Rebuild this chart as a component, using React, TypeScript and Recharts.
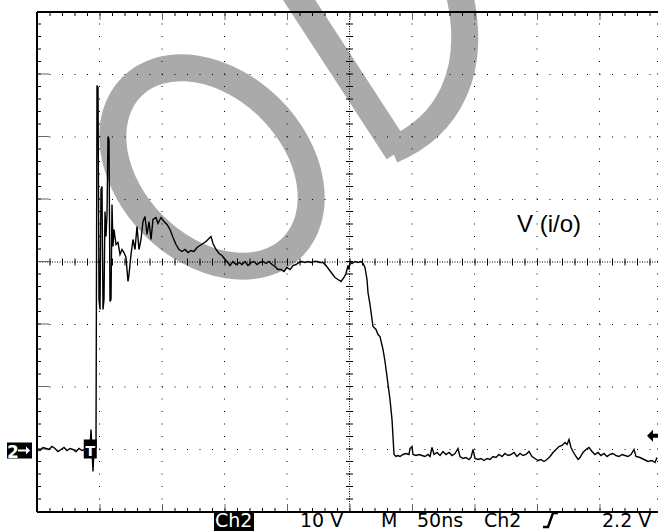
import React from 'react';
import { LineChart, Line, XAxis, YAxis, ReferenceLine, ReferenceDot, Customized } from 'recharts';

// time (ns) of each sample, 50 ns / div, 10 div
const T_NS = [
  0, 2.4, 4.8, 7.2, 9.6, 12, 14.4, 16.8, 19.2, 21.6, 24, 26.4, 28.8, 31.2, 33.6, 36, 38.4, 40.8, 42.4, 43.2,
  44, 44.8, 45.6, 47.2, 48, 48.8, 49.6, 50.4, 51.2, 52, 52.8, 53.6, 54.4, 55.2, 56, 56.8, 57.6, 58.4, 59.2, 60,
  60.8, 61.6, 63.2, 64.8, 66.4, 68, 69.6, 71.2, 72.8, 73.6, 75.2, 76.8, 78.4, 80, 81.6, 83.2, 84.8, 86.4, 88, 89.6,
  91.2, 92.8, 95.2, 96.8, 99.2, 101.6, 104, 106.4, 108.8, 111.2, 113.6, 116, 118.4, 120.8, 123.2, 125.6, 128, 130.4, 132.8, 135.2,
  136.8, 139.2, 140.8, 143.2, 145.6, 148, 150.4, 152, 154.4, 156.8, 159.2, 161.6, 164, 166.4, 168.8, 171.2, 173.6, 176, 178.4, 180.8,
  183.2, 185.6, 188, 190.4, 192.8, 195.2, 197.6, 200, 202.4, 204.8, 207.2, 209.6, 212, 214.4, 216.8, 219.2, 221.6, 224, 226.4, 228.8,
  231.2, 233.6, 236, 238.4, 240.8, 243.2, 245.6, 247.2, 248.8, 249.6, 250.4, 252, 254.4, 256.8, 259.2, 260.8, 262.4, 264, 264.8, 266.4,
  268.8, 271.2, 272.8, 274.4, 276.8, 278.4, 280, 282.4, 284, 284.8, 285.6, 287.2, 288.8, 290.4, 292.8, 295.2, 297.6, 298.4, 300, 300.8,
  303.2, 305.6, 308, 310.4, 312.8, 314.4, 316, 317.6, 320, 322.4, 324.8, 327.2, 329.6, 332, 334.4, 336.8, 338.4, 340.8, 343.2, 345.6,
  347.2, 348.8, 350.4, 352.8, 355.2, 357.6, 360, 362.4, 364.8, 367.2, 369.6, 372, 374.4, 376.8, 379.2, 381.6, 384, 386.4, 388.8, 391.2,
  393.6, 396, 398.4, 400.8, 403.2, 405.6, 408, 410.4, 412.8, 415.2, 417.6, 420, 422.4, 424, 425.6, 427.2, 428.8, 431.2, 432.8, 434.4,
  436.8, 439.2, 441.6, 444, 446.4, 448.8, 451.2, 453.6, 456, 458.4, 460.8, 463.2, 465.6, 468, 470.4, 472.8, 475.2, 477.6, 479.2, 482.4,
  485.6, 488.8, 492, 494.4, 496,
];

// Ch2 voltage (V), 10 V / div
const V_CH2 = [
  0, -0.16, 0.32, 0.16, 0, 0.48, 0.16, -0.32, 0, 0.32, -0.16, 0.16, 0, -0.32, 0.16, -0.16, 0, 0.32, 0, 3.2,
  0, -3.52, 0, 0.32, 58.24, 57.92, 24, 22.4, 41.6, 42.08, 22.4, 24, 38.08, 34.08, 37.6, 50.08, 49.6, 23.68, 24, 39.2,
  32.48, 35.2, 32.8, 33.12, 31.2, 32, 31.52, 30.72, 26.88, 28, 31.2, 33.6, 32, 35.68, 32, 33.6, 36.48, 37.28, 34.4, 36.48,
  33.6, 36.8, 37.12, 36.16, 37.12, 36.48, 36, 35.2, 33.92, 32.8, 32, 31.68, 32, 31.52, 31.84, 31.68, 32.32, 32.64, 32.96, 33.28,
  33.6, 34.08, 32.96, 32, 31.36, 31.04, 30.4, 30.08, 29.44, 30.08, 29.6, 29.92, 29.6, 30.08, 29.44, 29.92, 30.08, 29.6, 29.92, 30.08,
  29.76, 30.08, 29.6, 29.28, 28.8, 28.8, 28.48, 29.12, 28.8, 29.44, 29.6, 29.92, 30.08, 29.92, 30.08, 29.92, 30.08, 30.08, 29.92, 29.92,
  29.44, 28.8, 28.16, 27.52, 27.2, 26.88, 27.52, 28.16, 29.44, 28.8, 30.08, 29.76, 30.08, 29.92, 30.08, 29.76, 29.12, 27.2, 25.12, 23.2,
  19.68, 19.2, 18.4, 18.08, 16, 14.08, 11.68, 8, 4.8, 2.08, -0.8, -1.12, -0.96, -1.12, -0.8, -0.64, -0.8, 0.16, 0.48, -0.8,
  -0.96, -0.8, -0.96, -1.12, -0.8, -1.12, 0.32, -0.8, -0.48, -0.96, -0.32, -0.8, -0.48, -0.96, -0.64, 0.16, -1.12, -1.44, -1.28, -1.6,
  -1.28, 0, -1.44, -1.6, -1.44, -1.76, -1.44, -1.6, -1.12, -1.28, -0.8, -1.12, -0.64, -0.96, -0.8, -0.48, -1.12, -0.64, -0.96, -0.8,
  -0.32, -1.12, -1.44, -1.76, -1.6, -1.92, -1.6, -1.12, -0.48, 0, 0.48, 0.64, 1.12, 0.8, 1.6, 0.32, -0.32, -1.12, -1.6, -1.28,
  -0.48, 0, 0.32, -0.32, -0.8, -0.48, -0.96, -0.64, -1.12, -0.8, -0.64, -0.96, -1.12, -0.8, -0.96, -1.12, -0.8, 0, -1.12, -1.28,
  -1.6, -1.92, -1.76, -2.08, -1.28,
];

const X_DIVS = [0, 50, 100, 150, 200, 250, 300, 350, 400, 450, 500];
const Y_DIVS = [-10, 0, 10, 20, 30, 40, 50, 60, 70];
const X_RANGE = [0, 500];
const Y_RANGE = [-10, 70];
const X_CENTER = 250;
const Y_CENTER = 30;
const TRIGGER_T = 43;
const TRIGGER_LEVEL = 2.2;

const CH_NAME = 'Ch2';
const VOLTS_PER_DIV = '10 V';
const TIMEBASE_MODE = 'M';
const TIME_PER_DIV = '50ns';
const TRIG_SOURCE = 'Ch2';
const TRIG_LEVEL_TEXT = '2.2 V';
const TRACE_LABEL = 'V (i/o)';
const GROUND_LABEL = '2';
const TRIG_MARK = 'T';

const data = T_NS.map((t, i) => ({ t, v: V_CH2[i] }));

const READOUT_FONT = "'DejaVu Sans', Verdana, sans-serif";

const Watermark = () => (
  <svg width={658} height={532} style={{ position: 'absolute', left: 0, top: 0 }}>
    <g fill="none" stroke="#aaaaaa" strokeWidth={27}>
      <ellipse cx={212} cy={167} rx={113.5} ry={82.5} transform="rotate(45 212 167)" />
      <path d="M 290 -14 L 398 152" />
      <path d="M 392 150 C 445 128 480 75 458 -12" />
    </g>
  </svg>
);

const Readout = () => (
  <g fontFamily={READOUT_FONT} fontSize={19}>
    <rect x={214} y={512} width={40} height={19} fill="#000" />
    <text x={215} y={527} fill="#fff">{CH_NAME}</text>
    <text x={300} y={527} fill="#000">{VOLTS_PER_DIV}</text>
    <text x={381} y={527} fill="#000">{TIMEBASE_MODE}</text>
    <text x={417} y={527} fill="#000">{TIME_PER_DIV}</text>
    <text x={484} y={527} fill="#000">{TRIG_SOURCE}</text>
    <polyline points="543,527 548,527 553,513 558,513" fill="none" stroke="#000" strokeWidth={2.4} />
    <text x={602} y={527} fill="#000">{TRIG_LEVEL_TEXT}</text>
    <text x={517} y={232} fill="#000" fontFamily="'Liberation Sans', Arial, sans-serif" fontSize={24}>{TRACE_LABEL}</text>
  </g>
);

const GroundMarker = (p: any) => {
  const { cx, cy } = p;
  return (
    <g>
      <rect x={cx - 30} y={cy - 7} width={25} height={16} fill="#000" />
      <text x={cx - 30} y={cy + 8} fill="#fff" fontFamily={READOUT_FONT} fontWeight="bold" fontSize={17}>{GROUND_LABEL}</text>
      <line x1={cx - 19} y1={cy + 1} x2={cx - 10} y2={cy + 1} stroke="#fff" strokeWidth={2} />
      <polygon points={`${cx - 7},${cy + 1} ${cx - 11},${cy - 3} ${cx - 11},${cy + 5}`} fill="#fff" />
    </g>
  );
};

const TriggerMarker = (p: any) => {
  const { cx, cy } = p;
  return (
    <g>
      <rect x={cx - 7} y={cy - 10} width={13} height={19} fill="#000" />
      <text x={cx - 0.5} y={cy + 6} textAnchor="middle" fill="#fff" fontFamily={READOUT_FONT} fontWeight="bold" fontSize={14}>{TRIG_MARK}</text>
    </g>
  );
};

const LevelArrow = (p: any) => {
  const { cx, cy } = p;
  return (
    <polygon
      points={`${cx - 15},${cy} ${cx - 9},${cy - 6} ${cx - 9},${cy - 2} ${cx},${cy - 2} ${cx},${cy + 2} ${cx - 9},${cy + 2} ${cx - 9},${cy + 6}`}
      fill="#000"
    />
  );
};

export default function App() {
  return (
    <div style={{ position: 'fixed', left: 0, top: 0, width: 658, height: 532, overflow: 'hidden', background: '#fff' }}>
      <Watermark />
      <div style={{ position: 'absolute', left: 0, top: 0 }}>
        <LineChart width={670} height={532} data={data} margin={{ top: 12, right: 8, bottom: 20, left: 37 }}>
          <XAxis type="number" dataKey="t" domain={X_RANGE} hide allowDataOverflow />
          <YAxis type="number" domain={Y_RANGE} hide allowDataOverflow />
          {X_DIVS.map((x) => (
            <ReferenceLine key={'gx' + x} x={x} stroke="#000" strokeWidth={1} strokeDasharray="1 11.5" ifOverflow="visible" />
          ))}
          {Y_DIVS.map((y) => (
            <ReferenceLine key={'gy' + y} y={y} stroke="#000" strokeWidth={1} strokeDasharray="1 11.5" ifOverflow="visible" />
          ))}
          <ReferenceLine x={X_CENTER} stroke="#000" strokeWidth={1} strokeDasharray="1 1.5" />
          <ReferenceLine y={Y_CENTER} stroke="#000" strokeWidth={1} strokeDasharray="1 1.5" />
          <ReferenceLine x={X_CENTER} stroke="#000" strokeWidth={7} strokeDasharray="1 11.5" />
          <ReferenceLine y={Y_CENTER} stroke="#000" strokeWidth={7} strokeDasharray="1 11.5" />
          <ReferenceLine y={Y_RANGE[1] - 0.32} stroke="#000" strokeWidth={4} strokeDasharray="1 11.5" />
          <ReferenceLine y={Y_RANGE[0] + 0.32} stroke="#000" strokeWidth={4} strokeDasharray="1 11.5" />
          <ReferenceLine x={X_RANGE[0] + 1.6} stroke="#000" strokeWidth={4} strokeDasharray="1 11.5" />
          <ReferenceLine x={X_RANGE[1] - 1.6} stroke="#000" strokeWidth={6} strokeDasharray="1 11.5" ifOverflow="visible" />
          <ReferenceLine y={Y_RANGE[1] - 0.64} stroke="#666" strokeWidth={8} strokeDasharray="1 61.5" />
          <ReferenceLine y={Y_RANGE[0] + 0.64} stroke="#666" strokeWidth={8} strokeDasharray="1 61.5" />
          <ReferenceLine x={X_RANGE[0] + 4.8} stroke="#666" strokeWidth={12} strokeDasharray="1 61.5" />
          <ReferenceLine y={Y_RANGE[1]} stroke="#000" strokeWidth={2} />
          <ReferenceLine y={Y_RANGE[0]} stroke="#000" strokeWidth={2} />
          <ReferenceLine x={X_RANGE[0]} stroke="#000" strokeWidth={2} />
          <Line
            type="linear"
            dataKey="v"
            stroke="#000"
            strokeWidth={1.4}
            dot={false}
            activeDot={false}
            isAnimationActive={false}
          />
          <ReferenceDot x={X_RANGE[0]} y={0} r={0} shape={GroundMarker} ifOverflow="visible" />
          <ReferenceDot x={TRIGGER_T} y={0} r={0} shape={TriggerMarker} ifOverflow="visible" />
          <ReferenceDot x={X_RANGE[1]} y={TRIGGER_LEVEL} r={0} shape={LevelArrow} ifOverflow="visible" />
          <Customized component={Readout} />
        </LineChart>
      </div>
    </div>
  );
}
